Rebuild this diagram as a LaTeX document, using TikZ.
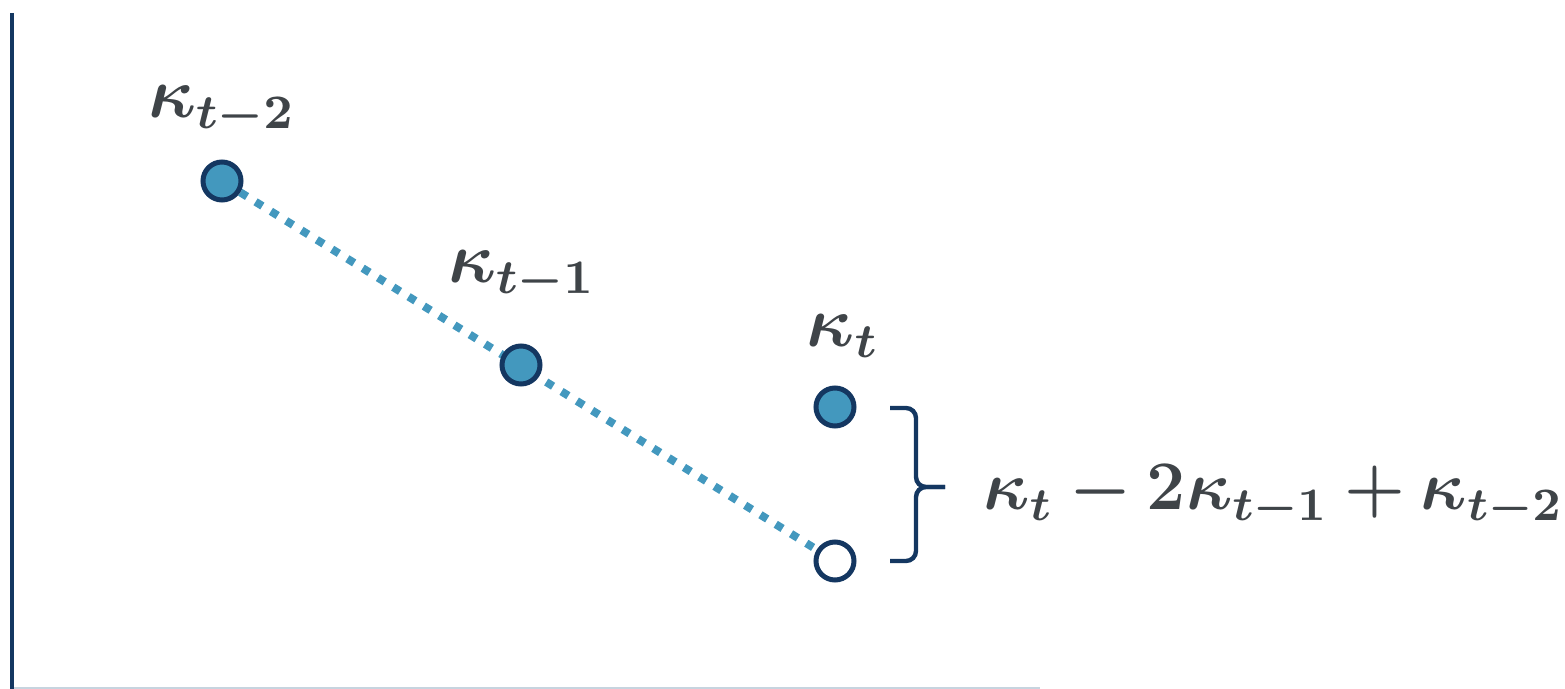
\documentclass[tikz,border=0pt]{standalone}
\usepackage{amsmath}
\usepackage{graphicx}
\usetikzlibrary{positioning,backgrounds}
\definecolor{Navy}{HTML}{143761}
\definecolor{Teal}{HTML}{4398BE}
\definecolor{Ink}{HTML}{3F4448}
\definecolor{Rule}{HTML}{C7D4DF}
\newcommand{\kmath}[2][3]{\scalebox{#1}{\fontsize{12}{14}\selectfont\boldmath$#2$}}

\begin{document}
\begin{tikzpicture}[
      x=0.5pt,y=-0.5pt,
      dot/.style={circle,draw=Navy,fill=Teal,line width=2.5pt,
        minimum size=19pt,inner sep=0pt},
      hollow/.style={dot,fill=white},
      lbl/.style={text=Ink,inner sep=0pt,anchor=base},
      trend/.style={Teal,line width=4pt,dash pattern=on 4pt off 5pt},
      brc/.style={draw=Navy,line width=2.2pt,rounded corners=5pt}
    ]
      \useasboundingbox (0,0) rectangle (1565,689);
      % axes
      \coordinate (top) at (12,13);
      \coordinate (origin) at (12,688);
      \coordinate (xend) at (1040,688);
      \draw[Rule,line width=1pt] (origin) -- (xend);
      \draw[Navy,line width=2pt] (top) -- (12,689);
      % points
      \node[dot] (k2) at (222,181) {};
      \node[dot] (k1) at (521,365) {};
      \node[dot] (k0) at (835,407) {};
      \node[hollow] (kproj) at (835,561) {};
      \begin{pgfonlayer}{background}
        \draw[trend] (k2) -- (kproj);
      \end{pgfonlayer}
      % labels
      \node[lbl] (lk2) at (222,118) {\kmath{\kappa_{t-2}}};
      \node[lbl] (lk1) at (522,283) {\kmath{\kappa_{t-1}}};
      \node[lbl] (lk0) at (843,347) {\kmath{\kappa_{t}}};
      % brace
      \coordinate (btop) at (890,408);
      \coordinate (bbot) at (890,561);
      \coordinate (bmid) at (916,487);
      \coordinate (tip) at (945,487);
      \draw[brc] (btop) -| (bmid) -- (tip);
      \draw[brc] (tip) -- (bmid) |- (bbot);
      \node[lbl,anchor=base west] (diff) at (983,510)
        {\kmath[2.9]{\medmuskip=3.5mu \kappa_t - 2\kappa_{t-1} + \kappa_{t-2}}};
    \end{tikzpicture}
\end{document}
